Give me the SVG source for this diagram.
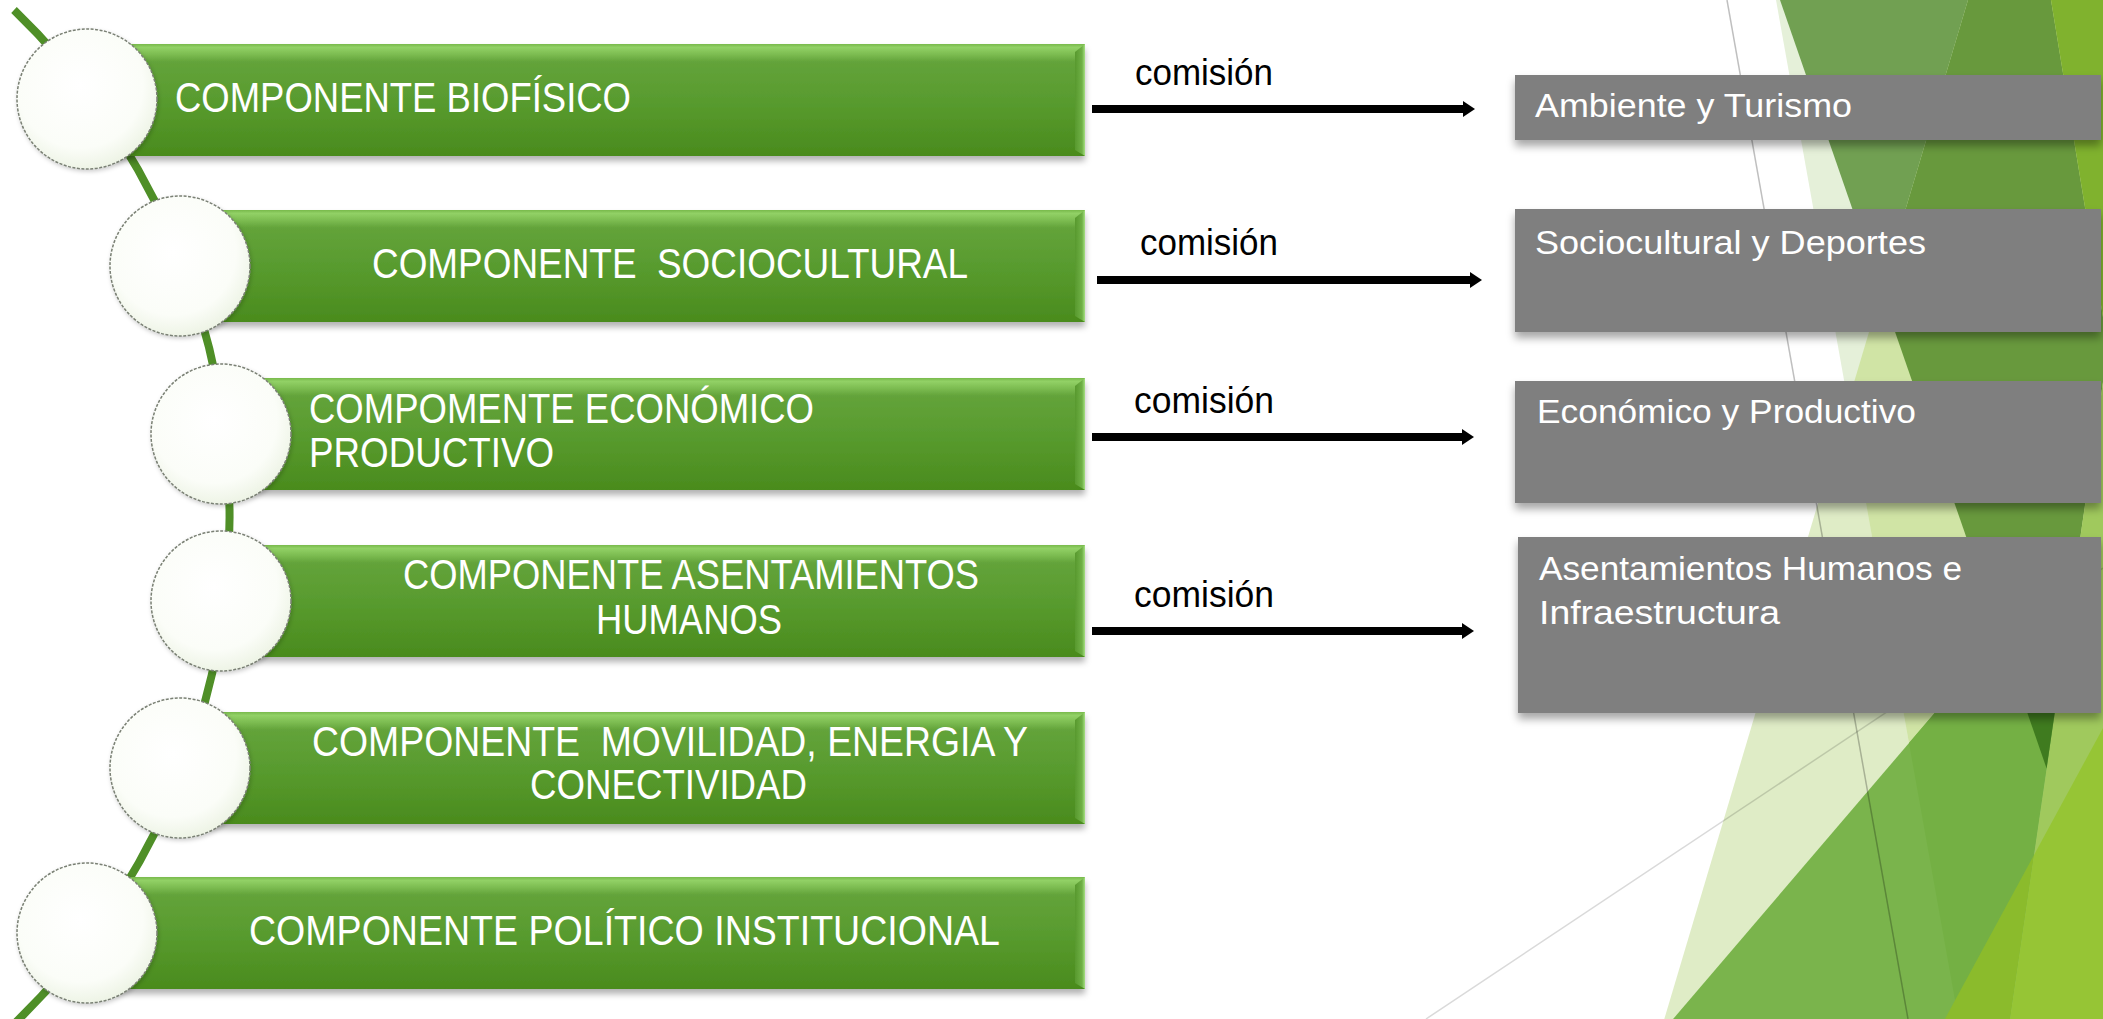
<svg xmlns="http://www.w3.org/2000/svg" width="2103" height="1019" viewBox="0 0 2103 1019">
<defs>
<style>
.t{font-family:"Liberation Sans",Arial,sans-serif;fill:#fff;font-size:42px;white-space:pre}
.bt{font-family:"Liberation Sans",Arial,sans-serif;fill:#fff;font-size:33px}
.lb{font-family:"Liberation Sans",Arial,sans-serif;fill:#000;font-size:36px}
.bar{fill:url(#gBar);filter:url(#sh)}
.bev{fill:url(#gBev)}
.dot{fill:url(#gCirc);stroke:#7a8074;stroke-width:1.5;stroke-dasharray:3 1.5;filter:url(#shc)}
.box{fill:#7f7f7f;filter:url(#sh2)}
.arr{stroke:#000;stroke-width:8;fill:none;marker-end:url(#ah)}
</style>
<linearGradient id="gBar" x1="0" y1="0" x2="0" y2="1">
<stop offset="0" stop-color="#78b94c"/>
<stop offset="0.03" stop-color="#92d166"/>
<stop offset="0.09" stop-color="#7dbd52"/>
<stop offset="0.16" stop-color="#63a33a"/>
<stop offset="0.55" stop-color="#579a2d"/>
<stop offset="1" stop-color="#4a8b1d"/>
</linearGradient>
<linearGradient id="gBev" x1="0" y1="0" x2="1" y2="0">
<stop offset="0" stop-color="#58992e"/>
<stop offset="0.7" stop-color="#6fb046"/>
<stop offset="1" stop-color="#a6e083"/>
</linearGradient>
<radialGradient id="gCirc" cx="0.45" cy="0.4" r="0.6">
<stop offset="0" stop-color="#ffffff"/>
<stop offset="0.75" stop-color="#fbfdf8"/>
<stop offset="1" stop-color="#eef4e6"/>
</radialGradient>
<filter id="sh" x="-5%" y="-10%" width="110%" height="140%">
<feDropShadow dx="0" dy="5" stdDeviation="3" flood-color="#000" flood-opacity="0.3"/>
</filter>
<filter id="sh2" x="-5%" y="-10%" width="110%" height="140%">
<feDropShadow dx="0" dy="6" stdDeviation="4" flood-color="#000" flood-opacity="0.35"/>
</filter>
<filter id="shc" x="-10%" y="-10%" width="125%" height="125%">
<feDropShadow dx="1" dy="2" stdDeviation="2" flood-color="#000" flood-opacity="0.2"/>
</filter>
<marker id="ah" markerUnits="userSpaceOnUse" viewBox="0 0 12 16" refX="0" refY="8" markerWidth="12" markerHeight="16" orient="auto">
<path d="M0,0 L12,8 L0,16 z" fill="#000"/>
</marker>
</defs>

<rect x="0" y="0" width="2103" height="1019" fill="#ffffff"/>

<g id="background">
<polygon points="1968,0 2103,0 2103,1019 1664.3,1019" fill="#dfecc6"/>
<polygon points="1776,0 2103,0 2103,1019 1958.4,1019" fill="#e5f0d9"/>
<polygon points="1968,0 2103,0 2103,1019 1958.4,1019 1848,402.5" fill="#d0e4a5"/>
<polygon points="1780,0 1968,0 1881,291.5" fill="#71a052"/>
<polygon points="1968,0 2051,0 2103,317 2103,382 2046.6,768.4 1881,291.5" fill="#68993d"/>
<polygon points="2051,0 2103,0 2103,317" fill="#80b22e"/>
<polygon points="2103,382 2103,1019 2010,1019" fill="#a0c95d"/>
<polygon points="2079.4,543.7 1673.1,1019 2010,1019" fill="#7ab44c"/>
<polygon points="2079.4,543.7 1909,743 1958.4,1019 2010,1019" fill="#74b044"/>
<polygon points="2079.4,543.7 2000.6,635.9 2046.6,768.4" fill="#3f7b1f"/>
<polygon points="2034,854.9 1944.9,1019 2010,1019" fill="#8bbb2c"/>
<polygon points="2103,728 2034,854.9 2010,1019 2103,1019" fill="#96c535"/>
<line x1="1727" y1="0" x2="1908" y2="1019" stroke="#000" stroke-opacity="0.25" stroke-width="1.5"/>
<line x1="1426" y1="1019" x2="2103" y2="568" stroke="#000" stroke-opacity="0.15" stroke-width="1.5"/>
</g>

<g id="spine">
<path d="M14,10 A704,704 0 0 1 14,1024" fill="none" stroke="#4f8f27" stroke-width="8"/>
</g>

<g id="node-biofisico">
<rect class="bar" x="87" y="44" width="998" height="112"/>
<polygon class="bev" points="1075,52 1085,44 1085,156 1075,150"/>
<circle class="dot" cx="87" cy="99" r="70"/>
<text class="t" x="175" y="112" textLength="456" lengthAdjust="spacingAndGlyphs">COMPONENTE BIOFÍSICO</text>
</g>

<g id="node-sociocultural">
<rect class="bar" x="180" y="210" width="905" height="112"/>
<polygon class="bev" points="1075,218 1085,210 1085,322 1075,316"/>
<circle class="dot" cx="180" cy="266" r="70"/>
<text class="t" x="372" y="278" textLength="596" lengthAdjust="spacingAndGlyphs">COMPONENTE  SOCIOCULTURAL</text>
</g>

<g id="node-economico">
<rect class="bar" x="221" y="378" width="864" height="112"/>
<polygon class="bev" points="1075,386 1085,378 1085,490 1075,484"/>
<circle class="dot" cx="221" cy="434" r="70"/>
<text class="t" x="309" y="423" textLength="505" lengthAdjust="spacingAndGlyphs">COMPOMENTE ECONÓMICO</text>
<text class="t" x="309" y="467" textLength="245" lengthAdjust="spacingAndGlyphs">PRODUCTIVO</text>
</g>

<g id="node-asentamientos">
<rect class="bar" x="221" y="545" width="864" height="112"/>
<polygon class="bev" points="1075,553 1085,545 1085,657 1075,651"/>
<circle class="dot" cx="221" cy="601" r="70"/>
<text class="t" x="403" y="589" textLength="576" lengthAdjust="spacingAndGlyphs">COMPONENTE ASENTAMIENTOS</text>
<text class="t" x="596" y="634" textLength="186" lengthAdjust="spacingAndGlyphs">HUMANOS</text>
</g>

<g id="node-movilidad">
<rect class="bar" x="180" y="712" width="905" height="112"/>
<polygon class="bev" points="1075,720 1085,712 1085,824 1075,818"/>
<circle class="dot" cx="180" cy="768" r="70"/>
<text class="t" x="312" y="756" textLength="716" lengthAdjust="spacingAndGlyphs">COMPONENTE  MOVILIDAD, ENERGIA Y</text>
<text class="t" x="530" y="799" textLength="277" lengthAdjust="spacingAndGlyphs">CONECTIVIDAD</text>
</g>

<g id="node-politico">
<rect class="bar" x="87" y="877" width="998" height="112"/>
<polygon class="bev" points="1075,885 1085,877 1085,989 1075,983"/>
<circle class="dot" cx="87" cy="933" r="70"/>
<text class="t" x="249" y="945" textLength="751" lengthAdjust="spacingAndGlyphs">COMPONENTE POLÍTICO INSTITUCIONAL</text>
</g>

<g id="node-ambiente">
<rect class="box" x="1515" y="75" width="586" height="65"/>
<text class="bt" x="1535" y="117" textLength="317" lengthAdjust="spacingAndGlyphs">Ambiente y Turismo</text>
</g>

<g id="node-deportes">
<rect class="box" x="1515" y="209" width="586" height="123"/>
<text class="bt" x="1535" y="254" textLength="391" lengthAdjust="spacingAndGlyphs">Sociocultural y Deportes</text>
</g>

<g id="node-productivo">
<rect class="box" x="1515" y="381" width="586" height="122"/>
<text class="bt" x="1537" y="423" textLength="379" lengthAdjust="spacingAndGlyphs">Económico y Productivo</text>
</g>

<g id="node-infraestructura">
<rect class="box" x="1518" y="537" width="583" height="176"/>
<text class="bt" x="1539" y="580" textLength="423" lengthAdjust="spacingAndGlyphs">Asentamientos Humanos e</text>
<text class="bt" x="1539" y="624" textLength="241" lengthAdjust="spacingAndGlyphs">Infraestructura</text>
</g>

<g id="connectors">
<line class="arr" x1="1092" y1="109" x2="1463" y2="109"/>
<line class="arr" x1="1097" y1="280" x2="1470" y2="280"/>
<line class="arr" x1="1092" y1="437" x2="1462" y2="437"/>
<line class="arr" x1="1092" y1="631" x2="1462" y2="631"/>
<text class="lb" x="1135" y="85" textLength="138" lengthAdjust="spacingAndGlyphs">comisión</text>
<text class="lb" x="1140" y="255" textLength="138" lengthAdjust="spacingAndGlyphs">comisión</text>
<text class="lb" x="1134" y="413" textLength="140" lengthAdjust="spacingAndGlyphs">comisión</text>
<text class="lb" x="1134" y="607" textLength="140" lengthAdjust="spacingAndGlyphs">comisión</text>
</g>
</svg>
